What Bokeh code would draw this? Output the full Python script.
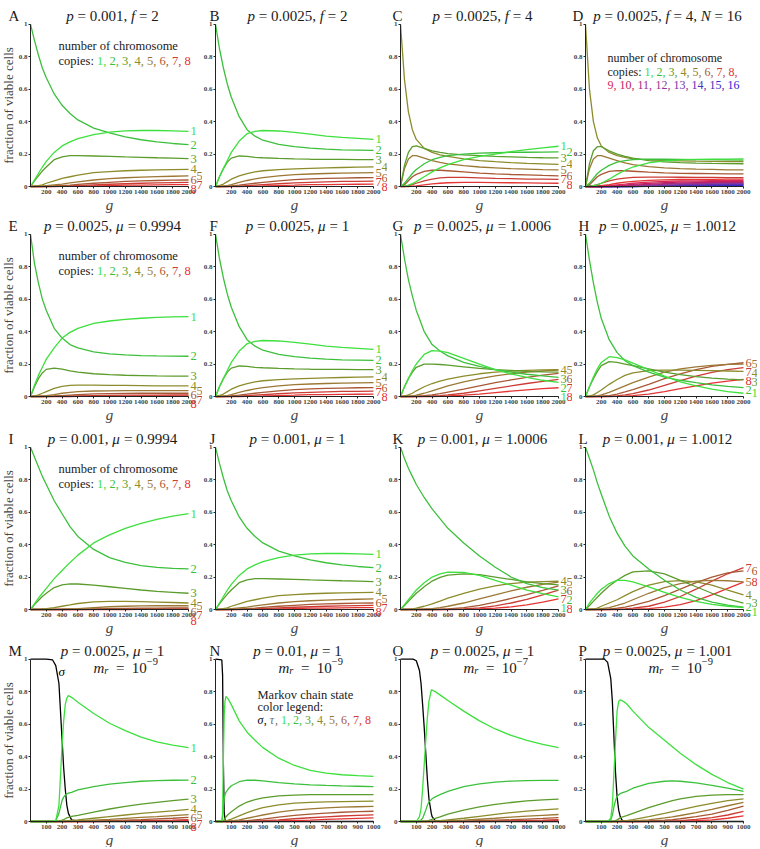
from bokeh.plotting import figure
from bokeh.models import Range1d, FixedTicker, Label, CustomJSTickFormatter
from bokeh.layouts import column, row
from bokeh.embed import file_html
from bokeh.resources import INLINE

# ---------------- data ----------------
X2K = [0, 50, 100, 150, 200, 300, 400, 500, 600, 800, 1000, 1200, 1400, 1600, 1800, 2000]
XT2K = [200, 400, 600, 800, 1000, 1200, 1400, 1600, 1800, 2000]
XT1K = [100, 200, 300, 400, 500, 600, 700, 800, 900, 1000]
YT = [0, 0.2, 0.4, 0.6, 0.8, 1]

# A (p=0.001, f=2) ; also J
A1 = [0, .04, .08, .12, .155, .21, .25, .275, .295, .32, .335, .343, .345, .345, .343, .34]
A2 = [1, .9, .81, .73, .67, .57, .5, .45, .41, .36, .33, .305, .288, .275, .265, .258]
A3 = [0, .035, .065, .095, .12, .165, .183, .19, .19, .188, .185, .182, .18, .177, .175, .172]
A4 = [0, .001, .005, .01, .02, .035, .05, .06, .07, .085, .092, .097, .1, .102, .104, .106]
A5 = [0, 0, .001, .002, .005, .01, .015, .022, .028, .04, .048, .054, .058, .061, .063, .065]
A6 = [0, 0, 0, 0, .001, .003, .006, .009, .013, .02, .026, .031, .035, .037, .039, .04]
A7 = [0, 0, 0, 0, 0, .001, .002, .004, .006, .01, .014, .017, .02, .022, .024, .025]
A8 = [0, 0, 0, 0, 0, 0, .001, .001, .002, .004, .006, .008, .009, .01, .011, .012]

# B (p=0.0025, f=2) ; also F
B1 = [0, .06, .11, .16, .21, .28, .325, .34, .345, .342, .333, .322, .31, .302, .296, .29]
B2 = [1, .85, .73, .63, .55, .43, .35, .31, .285, .26, .245, .236, .23, .226, .224, .222]
B3 = [0, .06, .11, .15, .175, .188, .185, .18, .177, .173, .17, .168, .167, .167, .166, .166]
B4 = [0, .005, .015, .03, .045, .065, .08, .09, .097, .104, .109, .112, .115, .117, .119, .121]
B5 = [0, 0, .002, .006, .012, .025, .037, .047, .055, .066, .073, .077, .08, .082, .084, .085]
B6 = [0, 0, 0, .001, .003, .008, .014, .02, .026, .035, .042, .047, .05, .052, .054, .055]
B7 = [0, 0, 0, 0, .001, .002, .005, .008, .011, .017, .022, .026, .029, .031, .032, .033]
B8 = [0, 0, 0, 0, 0, 0, .001, .002, .003, .006, .008, .011, .012, .013, .014, .015]

# C (p=0.0025, f=4)
C1 = [0, .002, .008, .018, .03, .06, .09, .115, .135, .165, .185, .2, .215, .227, .238, .248]
C2 = [0, .02, .05, .08, .105, .14, .165, .18, .19, .2, .205, .208, .21, .211, .212, .213]
C3 = [0, .13, .21, .245, .25, .235, .22, .21, .203, .195, .19, .185, .182, .179, .177, .176]
C4 = [1, .66, .46, .35, .29, .235, .21, .195, .185, .17, .16, .153, .147, .142, .139, .136]
C5 = [0, .11, .17, .19, .19, .175, .16, .148, .14, .128, .12, .115, .11, .107, .104, .102]
C6 = [0, .01, .035, .06, .075, .093, .1, .1, .097, .09, .083, .078, .074, .071, .068, .066]
C7 = [0, 0, .005, .012, .02, .035, .046, .053, .056, .056, .053, .05, .048, .046, .045, .044]
C8 = [0, 0, 0, .002, .004, .01, .016, .02, .023, .025, .025, .024, .023, .022, .021, .02]

# D (p=0.0025, f=4, N=16)
D1 = [0, 0, .005, .01, .02, .045, .075, .1, .12, .145, .158, .164, .167, .168, .169, .17]
D2 = [0, .02, .05, .08, .1, .13, .15, .16, .165, .168, .168, .167, .166, .165, .164, .163]
D3 = [0, .14, .22, .245, .245, .22, .2, .185, .175, .16, .152, .147, .144, .142, .141, .14]
D4 = [1, .6, .4, .3, .25, .21, .19, .18, .17, .165, .16, .158, .156, .155, .154, .153]
D5 = [0, .11, .17, .19, .19, .175, .16, .145, .135, .122, .115, .11, .107, .105, .103, .102]
D6 = [0, .01, .035, .06, .075, .093, .098, .097, .094, .088, .084, .081, .08, .079, .078, .078]
D7 = [0, 0, .005, .012, .02, .035, .045, .052, .056, .058, .058, .057, .056, .056, .055, .055]
D8 = [0, 0, 0, .002, .005, .012, .02, .027, .032, .038, .041, .043, .044, .044, .045, .045]
D9 = [0, 0, 0, 0, .001, .005, .01, .015, .02, .027, .031, .034, .035, .036, .036, .037]
D10 = [0, 0, 0, 0, 0, .002, .005, .009, .013, .019, .024, .027, .029, .03, .031, .031]
D11 = [0, 0, 0, 0, 0, .001, .002, .005, .008, .013, .018, .021, .023, .025, .026, .026]
D12 = [0, 0, 0, 0, 0, 0, .001, .002, .004, .009, .013, .016, .018, .02, .021, .022]
D13 = [0, 0, 0, 0, 0, 0, 0, .001, .002, .005, .009, .012, .014, .016, .017, .018]
D14 = [0, 0, 0, 0, 0, 0, 0, 0, .001, .003, .006, .008, .01, .012, .013, .014]
D15 = [0, 0, 0, 0, 0, 0, 0, 0, 0, .002, .003, .005, .007, .008, .009, .01]
D16 = [0, 0, 0, 0, 0, 0, 0, 0, 0, .001, .002, .003, .004, .005, .006, .007]

# E (p=0.0025, mu=0.9994)
E1 = [0, .07, .13, .18, .23, .3, .36, .395, .42, .45, .465, .475, .482, .487, .49, .492]
E2 = [1, .82, .7, .6, .53, .42, .36, .32, .3, .275, .263, .256, .252, .25, .249, .248]
E3 = [0, .06, .11, .145, .167, .175, .168, .158, .15, .14, .135, .131, .129, .127, .126, .125]
E4 = [0, .003, .01, .02, .03, .05, .063, .068, .07, .07, .069, .068, .067, .066, .065, .065]
E5 = [0, 0, .001, .003, .005, .012, .02, .026, .03, .034, .035, .036, .036, .036, .036, .036]
E6 = [0, 0, 0, 0, .001, .003, .006, .009, .012, .016, .018, .019, .02, .02, .02, .02]
E7 = [0, 0, 0, 0, 0, .001, .001, .002, .003, .005, .007, .008, .009, .009, .01, .01]
E8 = [0, 0, 0, 0, 0, 0, 0, 0, .001, .001, .002, .002, .003, .003, .003, .004]

# G (p=0.0025, mu=1.0006)
G1 = [0, .06, .11, .16, .2, .26, .283, .28, .27, .235, .2, .165, .14, .118, .1, .087]
G2 = [1, .85, .72, .62, .53, .4, .32, .28, .25, .21, .185, .165, .15, .137, .127, .118]
G3 = [0, .06, .11, .15, .18, .2, .2, .197, .193, .183, .173, .165, .16, .155, .152, .15]
G4 = [0, .002, .01, .02, .035, .06, .08, .095, .107, .125, .14, .15, .157, .161, .164, .165]
G5 = [0, 0, .001, .003, .008, .02, .035, .05, .065, .09, .11, .127, .14, .15, .157, .162]
G6 = [0, 0, 0, 0, .001, .005, .01, .018, .027, .045, .065, .085, .102, .118, .132, .143]
G7 = [0, 0, 0, 0, 0, .001, .003, .006, .01, .02, .035, .05, .065, .08, .093, .105]
G8 = [0, 0, 0, 0, 0, 0, 0, .001, .003, .008, .015, .024, .033, .041, .048, .054]

# H (p=0.0025, mu=1.0012)
H1 = [0, .06, .12, .17, .21, .245, .24, .225, .205, .165, .125, .09, .065, .045, .03, .02]
H2 = [1, .84, .7, .58, .48, .35, .27, .22, .19, .15, .12, .1, .085, .072, .062, .055]
H3 = [0, .06, .11, .155, .19, .215, .21, .2, .19, .17, .15, .135, .122, .113, .107, .103]
H4 = [0, .002, .01, .025, .04, .075, .105, .13, .145, .16, .163, .163, .161, .159, .157, .155]
H5 = [0, 0, .001, .004, .01, .025, .045, .065, .085, .12, .15, .17, .183, .192, .198, .2]
H6 = [0, 0, 0, .001, .002, .006, .015, .028, .042, .075, .11, .14, .165, .185, .198, .208]
H7 = [0, 0, 0, 0, 0, .001, .004, .01, .018, .04, .068, .098, .125, .148, .165, .178]
H8 = [0, 0, 0, 0, 0, 0, .001, .002, .005, .015, .03, .048, .066, .082, .095, .105]

# I (p=0.001, mu=0.9994)
I1 = [0, .035, .07, .1, .13, .19, .24, .29, .335, .41, .46, .5, .53, .555, .575, .59]
I2 = [1, .94, .88, .82, .77, .67, .59, .51, .45, .37, .32, .29, .27, .26, .253, .25]
I3 = [0, .03, .055, .08, .1, .135, .152, .158, .157, .15, .14, .13, .12, .112, .106, .1]
I4 = [0, 0, .001, .003, .005, .012, .02, .028, .037, .047, .05, .05, .048, .046, .043, .04]
I5 = [0, 0, 0, 0, 0, .001, .002, .004, .006, .012, .017, .02, .022, .023, .023, .023]
I6 = [0, 0, 0, 0, 0, 0, 0, .001, .001, .003, .005, .007, .008, .009, .01, .01]
I7 = [0, 0, 0, 0, 0, 0, 0, 0, 0, .001, .001, .002, .003, .003, .004, .004]
I8 = [0, 0, 0, 0, 0, 0, 0, 0, 0, 0, 0, 0, .001, .001, .001, .001]

# K (p=0.001, mu=1.0006)
K1 = [0, .03, .06, .09, .12, .165, .2, .22, .23, .228, .21, .18, .15, .12, .098, .078]
K2 = [1, .93, .87, .82, .77, .69, .62, .56, .5, .41, .33, .26, .2, .16, .135, .12]
K3 = [0, .025, .05, .075, .1, .14, .175, .198, .212, .22, .215, .2, .185, .17, .16, .152]
K4 = [0, 0, .001, .003, .008, .02, .035, .052, .07, .1, .125, .145, .16, .168, .172, .174]
K5 = [0, 0, 0, 0, 0, .002, .005, .011, .02, .04, .065, .09, .115, .137, .155, .168]
K6 = [0, 0, 0, 0, 0, 0, 0, .001, .004, .012, .025, .045, .068, .092, .118, .145]
K7 = [0, 0, 0, 0, 0, 0, 0, 0, .001, .004, .01, .022, .04, .062, .09, .12]
K8 = [0, 0, 0, 0, 0, 0, 0, 0, 0, .001, .003, .008, .016, .028, .045, .065]

# L (p=0.001, mu=1.0012)
L1 = [0, .04, .07, .1, .125, .16, .18, .18, .17, .14, .105, .075, .05, .032, .02, .012]
L2 = [1, .93, .86, .78, .71, .575, .47, .39, .33, .25, .18, .12, .075, .045, .027, .015]
L3 = [0, .025, .05, .075, .1, .145, .18, .21, .232, .238, .22, .18, .14, .1, .065, .04]
L4 = [0, 0, .003, .008, .02, .04, .06, .085, .11, .15, .172, .178, .17, .15, .12, .09]
L5 = [0, 0, 0, .001, .005, .012, .025, .04, .06, .1, .135, .16, .175, .18, .177, .17]
L6 = [0, 0, 0, 0, 0, .002, .008, .015, .025, .05, .085, .125, .165, .2, .225, .238]
L7 = [0, 0, 0, 0, 0, 0, .002, .004, .008, .02, .045, .08, .125, .175, .22, .258]
L8 = [0, 0, 0, 0, 0, 0, 0, .001, .002, .006, .015, .03, .055, .09, .13, .168]

# M (p=0.0025, mu=1, m_r=1e-9)
XM = [0, 100, 140, 160, 180, 200, 210, 220, 230, 240, 260, 300, 400, 500, 600, 700, 800, 900, 1000]
MS = [1, 1, .995, .96, .85, .5, .33, .2, .1, .05, .01, 0, 0, 0, 0, 0, 0, 0, 0]
M1 = [0, 0, 0, .005, .1, .47, .62, .72, .76, .775, .765, .735, .665, .605, .56, .52, .49, .47, .455]
M2 = [0, 0, 0, .005, .05, .13, .15, .163, .17, .175, .18, .195, .215, .23, .24, .248, .252, .254, .255]
M3 = [0, 0, 0, 0, .002, .008, .012, .017, .022, .026, .031, .038, .058, .077, .093, .107, .118, .129, .138]
M4 = [0, 0, 0, 0, 0, .001, .002, .003, .004, .005, .007, .01, .02, .03, .04, .05, .058, .066, .075]
M5 = [0, 0, 0, 0, 0, 0, 0, 0, .001, .001, .002, .003, .008, .013, .019, .025, .03, .036, .042]
M6 = [0, 0, 0, 0, 0, 0, 0, 0, 0, 0, 0, .001, .003, .006, .009, .012, .016, .02, .025]
M7 = [0, 0, 0, 0, 0, 0, 0, 0, 0, 0, 0, 0, .001, .002, .003, .005, .007, .009, .012]
M8 = [0, 0, 0, 0, 0, 0, 0, 0, 0, 0, 0, 0, 0, .001, .001, .002, .003, .004, .005]

# N (p=0.01, mu=1, m_r=1e-9)
XN = [0, 40, 45, 50, 55, 60, 66, 80, 100, 150, 200, 250, 300, 400, 500, 600, 700, 800, 900, 1000]
NS = [1, .995, .9, .35, .06, .01, 0, 0, 0, 0, 0, 0, 0, 0, 0, 0, 0, 0, 0, 0]
N1 = [0, 0, .05, .4, .65, .74, .77, .755, .72, .62, .55, .5, .455, .39, .345, .315, .298, .288, .282, .278]
N2 = [0, 0, .03, .1, .14, .165, .18, .2, .22, .245, .255, .254, .25, .24, .232, .226, .222, .219, .217, .215]
N3 = [0, 0, 0, .005, .012, .02, .028, .043, .06, .095, .12, .135, .145, .158, .163, .165, .166, .166, .166, .166]
N4 = [0, 0, 0, 0, .001, .002, .004, .008, .015, .035, .055, .071, .085, .103, .113, .118, .121, .123, .124, .125]
N5 = [0, 0, 0, 0, 0, 0, 0, .001, .003, .01, .02, .03, .04, .058, .07, .078, .084, .088, .091, .093]
N6 = [0, 0, 0, 0, 0, 0, 0, 0, .001, .002, .005, .01, .015, .027, .038, .046, .052, .057, .061, .063]
N7 = [0, 0, 0, 0, 0, 0, 0, 0, 0, 0, .001, .003, .005, .01, .017, .023, .029, .034, .038, .041]
N8 = [0, 0, 0, 0, 0, 0, 0, 0, 0, 0, 0, 0, .001, .003, .006, .009, .013, .016, .019, .022]

# O (p=0.0025, mu=1, m_r=1e-7)
XO = [0, 80, 100, 120, 130, 140, 150, 160, 170, 180, 195, 200, 220, 250, 300, 400, 500, 600, 700, 800, 900, 1000]
OS = [1, 1, .99, .93, .85, .72, .58, .42, .26, .14, .05, .03, .005, 0, 0, 0, 0, 0, 0, 0, 0, 0]
O1 = [0, 0, 0, .03, .08, .2, .35, .5, .64, .74, .81, .81, .8, .78, .745, .68, .62, .57, .53, .5, .475, .455]
O2 = [0, 0, 0, 0, .01, .02, .045, .07, .1, .12, .135, .14, .152, .165, .185, .215, .232, .243, .249, .252, .253, .253]
O3 = [0, 0, 0, 0, 0, 0, .001, .002, .004, .007, .012, .014, .02, .028, .045, .07, .09, .105, .117, .127, .133, .138]
O4 = [0, 0, 0, 0, 0, 0, 0, 0, 0, .001, .001, .002, .003, .005, .01, .02, .032, .044, .055, .064, .071, .078]
O5 = [0, 0, 0, 0, 0, 0, 0, 0, 0, 0, 0, 0, .001, .001, .003, .008, .014, .02, .027, .033, .038, .043]
O6 = [0, 0, 0, 0, 0, 0, 0, 0, 0, 0, 0, 0, 0, 0, .001, .002, .005, .008, .011, .015, .019, .024]
O7 = [0, 0, 0, 0, 0, 0, 0, 0, 0, 0, 0, 0, 0, 0, 0, .001, .001, .003, .004, .007, .009, .012]
O8 = [0, 0, 0, 0, 0, 0, 0, 0, 0, 0, 0, 0, 0, 0, 0, 0, 0, .001, .001, .002, .003, .005]

# P (p=0.0025, mu=1.001, m_r=1e-9)
XP = [0, 120, 140, 160, 170, 180, 190, 200, 210, 220, 230, 240, 260, 300, 400, 500, 550, 600, 700, 800, 900, 1000]
PS = [1, 1, .98, .88, .74, .52, .3, .15, .07, .03, .01, .003, 0, 0, 0, 0, 0, 0, 0, 0, 0, 0]
P1 = [0, 0, 0, .02, .1, .3, .5, .68, .74, .75, .745, .74, .725, .68, .58, .5, .46, .42, .35, .29, .24, .2]
P2 = [0, 0, 0, .01, .04, .09, .13, .155, .165, .172, .176, .18, .186, .205, .235, .248, .25, .248, .238, .223, .205, .185]
P3 = [0, 0, 0, 0, 0, .002, .005, .01, .016, .022, .027, .03, .036, .05, .085, .115, .128, .14, .155, .163, .165, .165]
P4 = [0, 0, 0, 0, 0, 0, 0, .001, .001, .002, .003, .004, .006, .012, .03, .05, .061, .072, .093, .112, .128, .14]
P5 = [0, 0, 0, 0, 0, 0, 0, 0, 0, 0, .001, .001, .001, .003, .01, .022, .029, .037, .055, .075, .097, .118]
P6 = [0, 0, 0, 0, 0, 0, 0, 0, 0, 0, 0, 0, 0, .001, .003, .008, .012, .017, .03, .046, .068, .095]
P7 = [0, 0, 0, 0, 0, 0, 0, 0, 0, 0, 0, 0, 0, 0, .001, .002, .004, .006, .013, .024, .04, .063]
P8 = [0, 0, 0, 0, 0, 0, 0, 0, 0, 0, 0, 0, 0, 0, 0, .001, .001, .002, .005, .01, .02, .035]

STATE_COLORS = ["#3de03d", "#3cc03c", "#5c9c2c", "#8c8c2c", "#9c7834", "#a85834", "#cc3c34", "#e43434"]
EXTRA_COLORS = ["#d8285a", "#c02060", "#a8287c", "#903896", "#7034a8", "#5430b4", "#3c2cc4", "#2424d4"]
SIGMA_COLOR = "#000000"
TAU_COLOR = "#707070"
TXT = "#1a1a1a"

# ---------------- layout / style ----------------
SERIF = "Liberation Serif"
YTOP = 1.004
PW, PH = 158, 163
LEFTS = [30, 13, 13, 13]
RIGHT = 14
TOPS = [23, 19, 22, 21]
BOTS = [28, 28, 28, 26]
LETTER_DX = [-22, -6, -8, -7]

RGW = {' ': 250, '.': 250, ',': 250, ':': 278, '=': 564, '-': 333, '\u2212': 564,
       'a': 444, 'b': 500, 'c': 444, 'd': 500, 'e': 444, 'f': 333, 'g': 500, 'h': 500, 'i': 278,
       'j': 278, 'k': 500, 'l': 278, 'm': 778, 'n': 500, 'o': 500, 'p': 500, 'q': 500, 'r': 333,
       's': 389, 't': 278, 'u': 500, 'v': 500, 'w': 722, 'x': 500, 'y': 500, 'z': 444, 'M': 889}
ITW = {'p': 500, 'f': 278, 'g': 500, 'm': 722, 'r': 389, 'N': 667, '\u03bc': 520, '\u03c3': 520, '\u03c4': 440}


def tw(s, fs, italic):
    tb = ITW if italic else RGW
    return sum(tb.get(ch, RGW.get(ch, 500)) for ch in s) * fs / 1000.0


def segments(p, pieces, x0, y0, fs, baseline="alphabetic"):
    x = x0
    for pc in pieces:
        text, italic, color = pc[0], pc[1], pc[2]
        sc = pc[3] if len(pc) > 3 else 1.0
        dy = pc[4] if len(pc) > 4 else 0
        f = fs * sc
        st = text.strip()
        lead = len(text) - len(text.lstrip())
        if st:
            p.add_layout(Label(x=0, y=YTOP, x_offset=x + tw(text[:lead], f, italic), y_offset=y0 + dy,
                               text=st, text_font=SERIF, text_font_size=f"{f:.1f}px",
                               text_font_style="italic" if italic else "normal",
                               text_color=color, text_baseline=baseline, text_align="left"))
        x += tw(text, f, italic)
    return x


def seg_width(pieces, fs):
    return sum(tw(pc[0], fs * (pc[3] if len(pc) > 3 else 1.0), pc[1]) for pc in pieces)


def title_pieces(spec):
    return [(t, it, TXT) for t, it in spec]


def number_pieces(nums, colors, trailing_comma=False):
    nums = list(nums)
    out = []
    for k, (n, c) in enumerate(zip(nums, colors)):
        lead = "" if k == 0 else " "
        comma = "," if (k < len(nums) - 1 or trailing_comma) else ""
        out.append((lead + str(n) + comma, False, c))
    return out


def end_labels(p, xmax, series, colors):
    scale = PH / YTOP
    items = sorted([(s[-1], k) for k, s in enumerate(series)], reverse=True)
    last = [1e9, 1e9]
    for v, k in items:
        y = v * scale
        if y <= last[0] - 9:
            col, yy = 0, y
        elif y <= last[1] - 9:
            col, yy = 1, y
        else:
            y0c, y1c = last[0] - 9, last[1] - 9
            col, yy = (0, y0c) if y0c >= y1c else (1, y1c)
        last[col] = yy
        p.add_layout(Label(x=xmax, y=0, x_offset=2 + 6 * col, y_offset=yy, text=str(k + 1),
                           text_font=SERIF, text_font_size="12.5px", text_color=colors[k],
                           text_baseline="middle", text_align="left"))


PANELS = [
    dict(letter="A", title=[("p", 1), (" = 0.001, ", 0), ("f", 1), (" = 2", 0)], x=X2K,
         ser=[A1, A2, A3, A4, A5, A6, A7, A8], legend="copies", ends=True),
    dict(letter="B", title=[("p", 1), (" = 0.0025, ", 0), ("f", 1), (" = 2", 0)], x=X2K,
         ser=[B1, B2, B3, B4, B5, B6, B7, B8], ends=True),
    dict(letter="C", title=[("p", 1), (" = 0.0025, ", 0), ("f", 1), (" = 4", 0)], x=X2K,
         ser=[C1, C2, C3, C4, C5, C6, C7, C8], ends=True),
    dict(letter="D", title=[("p", 1), (" = 0.0025, ", 0), ("f", 1), (" = 4, ", 0), ("N", 1), (" = 16", 0)],
         x=X2K, ser=[D1, D2, D3, D4, D5, D6, D7, D8, D9, D10, D11, D12, D13, D14, D15, D16],
         legend="copies16", ends=False, letter_dx=-13),
    dict(letter="E", title=[("p", 1), (" = 0.0025, ", 0), ("\u03bc", 1), (" = 0.9994", 0)], x=X2K,
         ser=[E1, E2, E3, E4, E5, E6, E7, E8], legend="copies", ends=True),
    dict(letter="F", title=[("p", 1), (" = 0.0025, ", 0), ("\u03bc", 1), (" = 1", 0)], x=X2K,
         ser=[B1, B2, B3, B4, B5, B6, B7, B8], ends=True),
    dict(letter="G", title=[("p", 1), (" = 0.0025, ", 0), ("\u03bc", 1), (" = 1.0006", 0)], x=X2K,
         ser=[G1, G2, G3, G4, G5, G6, G7, G8], ends=True),
    dict(letter="H", title=[("p", 1), (" = 0.0025, ", 0), ("\u03bc", 1), (" = 1.0012", 0)], x=X2K,
         ser=[H1, H2, H3, H4, H5, H6, H7, H8], ends=True),
    dict(letter="I", title=[("p", 1), (" = 0.001, ", 0), ("\u03bc", 1), (" = 0.9994", 0)], x=X2K,
         ser=[I1, I2, I3, I4, I5, I6, I7, I8], legend="copies", ends=True),
    dict(letter="J", title=[("p", 1), (" = 0.001, ", 0), ("\u03bc", 1), (" = 1", 0)], x=X2K,
         ser=[A1, A2, A3, A4, A5, A6, A7, A8], ends=True),
    dict(letter="K", title=[("p", 1), (" = 0.001, ", 0), ("\u03bc", 1), (" = 1.0006", 0)], x=X2K,
         ser=[K1, K2, K3, K4, K5, K6, K7, K8], ends=True),
    dict(letter="L", title=[("p", 1), (" = 0.001, ", 0), ("\u03bc", 1), (" = 1.0012", 0)], x=X2K,
         ser=[L1, L2, L3, L4, L5, L6, L7, L8], ends=True),
    dict(letter="M", title=[("p", 1), (" = 0.0025, ", 0), ("\u03bc", 1), (" = 1", 0)], x=XM,
         ser=[M1, M2, M3, M4, M5, M6, M7, M8], sigma=MS, mr="9", ends=True, sigma_label=True),
    dict(letter="N", title=[("p", 1), (" = 0.01, ", 0), ("\u03bc", 1), (" = 1", 0)], x=XN,
         ser=[N1, N2, N3, N4, N5, N6, N7, N8], sigma=NS, mr="9", legend="markov", ends=False),
    dict(letter="O", title=[("p", 1), (" = 0.0025, ", 0), ("\u03bc", 1), (" = 1", 0)], x=XO,
         ser=[O1, O2, O3, O4, O5, O6, O7, O8], sigma=OS, mr="7", ends=False),
    dict(letter="P", title=[("p", 1), (" = 0.0025, ", 0), ("\u03bc", 1), (" = 1.001", 0)], x=XP,
         ser=[P1, P2, P3, P4, P5, P6, P7, P8], sigma=PS, mr="9", ends=False),
]


def build(idx, pan):
    r, c = divmod(idx, 4)
    left = LEFTS[c]
    right = RIGHT
    top, bot = TOPS[r], BOTS[r]
    xmax = pan["x"][-1]
    # the frame fills the whole canvas; the data box [0, xmax] x [0, 1] sits inside it
    xs0 = -left * xmax / PW
    xs1 = xmax + right * xmax / PW
    ys0 = -bot * YTOP / PH
    ys1 = YTOP + top * YTOP / PH
    p = figure(width=left + PW + right, height=top + PH + bot,
               x_range=Range1d(xs0, xs1), y_range=Range1d(ys0, ys1),
               output_backend="svg", toolbar_location=None,
               min_border=0, min_border_left=0, min_border_right=0,
               min_border_top=0, min_border_bottom=0)
    p.grid.visible = False
    p.outline_line_color = None
    p.background_fill_color = "white"
    p.xaxis.fixed_location = 0
    p.yaxis.fixed_location = 0
    p.xaxis.bounds = (0, xmax)
    p.yaxis.bounds = (0, 1)
    p.xaxis.ticker = FixedTicker(ticks=XT2K if xmax == 2000 else XT1K)
    p.yaxis.ticker = FixedTicker(ticks=YT)
    p.yaxis.formatter = CustomJSTickFormatter(code="return (Math.round(tick*10)/10).toString();")
    for ax in (p.xaxis[0], p.yaxis[0]):
        ax.axis_line_color = "#222222"
        ax.axis_line_width = 1
        ax.major_tick_line_color = "#222222"
        ax.major_tick_in = 0
        ax.major_tick_out = 2
        ax.minor_tick_line_color = None
        ax.major_label_text_font = SERIF
        ax.major_label_text_font_size = "7px"
        ax.major_label_text_font_style = "bold"
        ax.major_label_standoff = 1
    p.xaxis.axis_label = "g"
    p.xaxis.axis_label_text_font = SERIF
    p.xaxis.axis_label_text_font_style = "italic"
    p.xaxis.axis_label_text_font_size = "15px"
    p.xaxis.axis_label_standoff = 0
    if c == 0:
        p.yaxis.axis_label = "fraction of viable cells"
        p.yaxis.axis_label_text_font = SERIF
        p.yaxis.axis_label_text_font_style = "normal"
        p.yaxis.axis_label_text_font_size = "13px"
        p.yaxis.axis_label_standoff = 0

    ser = pan["ser"]
    colors = STATE_COLORS + EXTRA_COLORS if len(ser) > 8 else STATE_COLORS
    if "sigma" in pan:
        p.line(pan["x"], pan["sigma"], line_color=SIGMA_COLOR, line_width=1.3)
    for k in range(len(ser) - 1, -1, -1):
        p.line(pan["x"], ser[k], line_color=colors[k], line_width=1.3)

    # title
    letter_dx = pan.get("letter_dx", LETTER_DX[c])
    p.add_layout(Label(x=0, y=YTOP, x_offset=letter_dx, y_offset=8, text=pan["letter"],
                       text_font=SERIF, text_font_size="15px", text_color=TXT,
                       text_baseline="alphabetic", text_align="left"))
    tp = title_pieces(pan["title"])
    w = seg_width(tp, 15)
    x0 = max(PW / 2 + 3 - w / 2, letter_dx + 15)
    segments(p, tp, x0, 8, 15)

    if "mr" in pan:
        mp = [("m", 1, TXT), ("r", 1, TXT, 0.7, -3), ("  =", 0, TXT), ("  10", 0, TXT),
              ("\u2212" + pan["mr"], 0, TXT, 0.7, 6)]
        segments(p, mp, 63, -9, 15)

    leg = pan.get("legend")
    if leg == "copies":
        segments(p, [("number of chromosome", 0, TXT)], 28, -22, 12.5, "middle")
        segments(p, [("copies: ", 0, TXT)] + number_pieces(range(1, 9), STATE_COLORS), 28, -37, 12.5, "middle")
    elif leg == "copies16":
        segments(p, [("number of chromosome", 0, TXT)], 22, -34, 12, "middle")
        segments(p, [("copies: ", 0, TXT)] + number_pieces(range(1, 9), STATE_COLORS, True), 22, -48, 12, "middle")
        segments(p, number_pieces(range(9, 17), EXTRA_COLORS), 22, -61, 12, "middle")
    elif leg == "markov":
        segments(p, [("Markov chain state", 0, TXT)], 42, -36, 12.5, "middle")
        segments(p, [("color legend:", 0, TXT)], 42, -48, 12.5, "middle")
        segments(p, [("\u03c3", 1, SIGMA_COLOR), (",", 0, SIGMA_COLOR), (" \u03c4", 1, TAU_COLOR),
                     (",", 0, TAU_COLOR), (" ", 0, TXT)] + number_pieces(range(1, 9), STATE_COLORS),
                 42, -61, 12, "middle")

    if pan.get("sigma_label"):
        p.add_layout(Label(x=178, y=0.925, text="\u03c3", text_font=SERIF, text_font_size="13px",
                           text_font_style="italic", text_color=SIGMA_COLOR,
                           text_baseline="middle", text_align="left"))

    if pan.get("ends"):
        end_labels(p, xmax, ser, colors)
    return p


figs = [build(i, pan) for i, pan in enumerate(PANELS)]
layout = column(*[row(*figs[r * 4:(r + 1) * 4]) for r in range(4)])

open("out.html", "w").write(file_html(layout, INLINE, title="fraction of viable cells"))
